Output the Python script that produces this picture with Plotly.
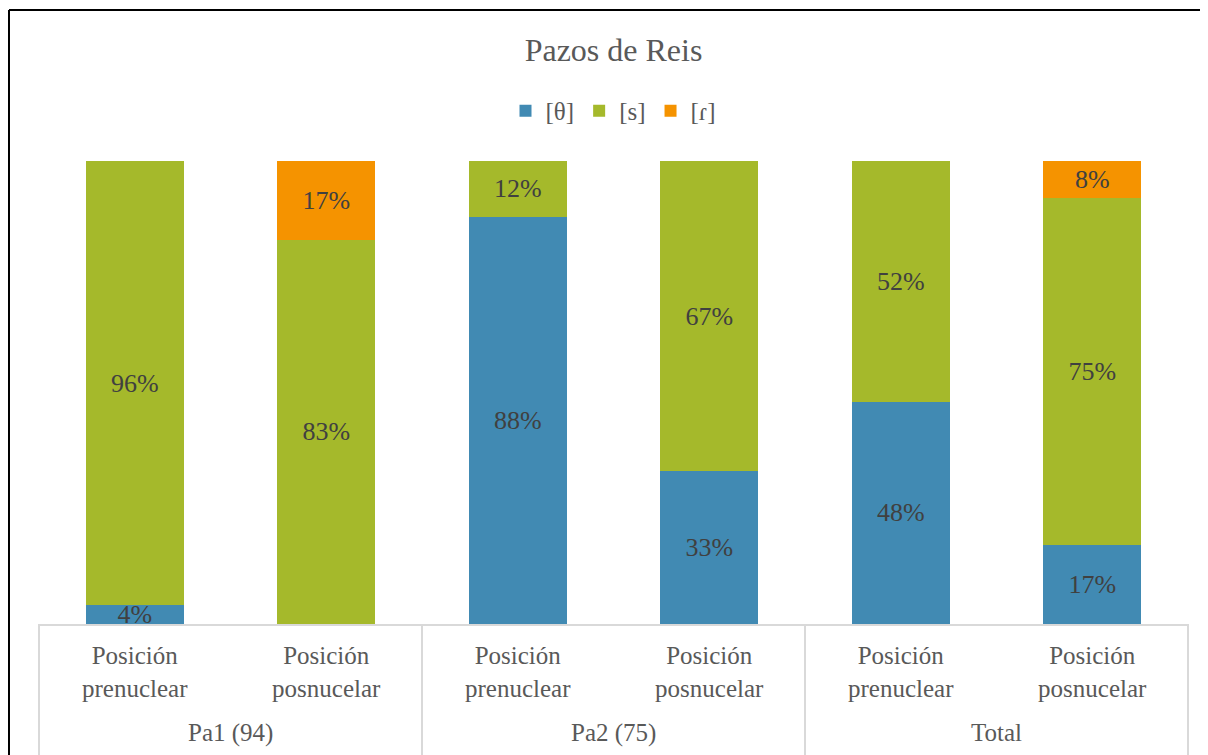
import plotly.graph_objects as go

groups = ["Pa1 (94)", "Pa1 (94)", "Pa2 (75)", "Pa2 (75)", "Total", "Total"]
positions = ["Posición<br>prenuclear", "Posición<br>posnucelar",
             "Posición<br>prenuclear", "Posición<br>posnucelar",
             "Posición<br>prenuclear", "Posición<br>posnucelar"]

theta = [4, 0, 88, 33, 48, 17]
s_vals = [96, 83, 12, 67, 52, 75]
r_vals = [0, 17, 0, 0, 0, 8]

series = [("[θ]", theta, "#418AB3"), ("[s]", s_vals, "#A5B92B"), ("[ɾ]", r_vals, "#F59300")]

FONT = "Liberation Serif, Times New Roman, serif"
GRID = "#D9D9D9"
TXT = "#595959"

# unique category keys (group + position), labelled with the position text
keys = [f"{g} | {p}" for g, p in zip(groups, positions)]

fig = go.Figure()
for name, vals, color in series:
    fig.add_trace(go.Bar(
        name=name,
        x=keys,
        y=[v if v > 0 else None for v in vals],
        marker=dict(color=color, line=dict(width=0)),
        text=[f"{v}%" if v > 0 else None for v in vals],
        textposition="inside",
        insidetextanchor="middle",
        textangle=0,
        textfont=dict(family=FONT, size=26, color="#404040"),
        hoverinfo="skip",
    ))

W, H = 1200, 747
fig.update_layout(
    barmode="stack",
    bargap=0.49,
    width=W, height=H,
    margin=dict(l=30, r=19, t=153, b=131),
    paper_bgcolor="white", plot_bgcolor="white",
    font=dict(family=FONT, color=TXT),
    uniformtext=dict(mode="show", minsize=26),
    title=dict(text="Pazos de Reis", xref="paper", x=0.5, xanchor="center", y=1 - 42 / H, yanchor="middle",
               font=dict(family=FONT, size=32, color=TXT)),
    legend=dict(orientation="h", x=0.5, xanchor="center", y=1.108, yanchor="middle",
                font=dict(family=FONT, size=25, color=TXT), traceorder="normal",
                itemwidth=30),
    showlegend=True,
)
fig.update_xaxes(
    type="category",
    tickmode="array", tickvals=keys, ticktext=positions,
    showline=True, linecolor=GRID, linewidth=2,
    tickfont=dict(family=FONT, size=25, color=TXT),
    ticklabelstandoff=8,
    ticks="",
    showgrid=False,
)
fig.update_yaxes(range=[0, 100], visible=False, showgrid=False)

# group labels and group dividers, derived from the group structure
unique_groups = list(dict.fromkeys(groups))
for g in unique_groups:
    idx = [i for i, gg in enumerate(groups) if gg == g]
    fig.add_annotation(x=(idx[0] + idx[-1]) / 2, y=-0.2354, xref="x", yref="paper",
                       text=g, showarrow=False, yanchor="middle",
                       font=dict(family=FONT, size=25, color=TXT))
bounds = [-0.5] + [i + 0.5 for i in range(len(groups) - 1) if groups[i] != groups[i + 1]] + [len(groups) - 0.5]
for b in bounds:
    fig.add_shape(type="line", xref="x", yref="paper", x0=b, x1=b, y0=0, y1=-0.3,
                  line=dict(color=GRID, width=2))

# outer frame lines (top and left) of the original image
fig.add_shape(type="line", xref="paper", yref="paper", x0=-0.0252, x1=1.05, y0=1.326, y1=1.326,
              line=dict(color="black", width=2))
fig.add_shape(type="line", xref="paper", yref="paper", x0=-0.0252, x1=-0.0252, y0=1.326, y1=-0.3,
              line=dict(color="black", width=2))

fig.write_html("out.html")
